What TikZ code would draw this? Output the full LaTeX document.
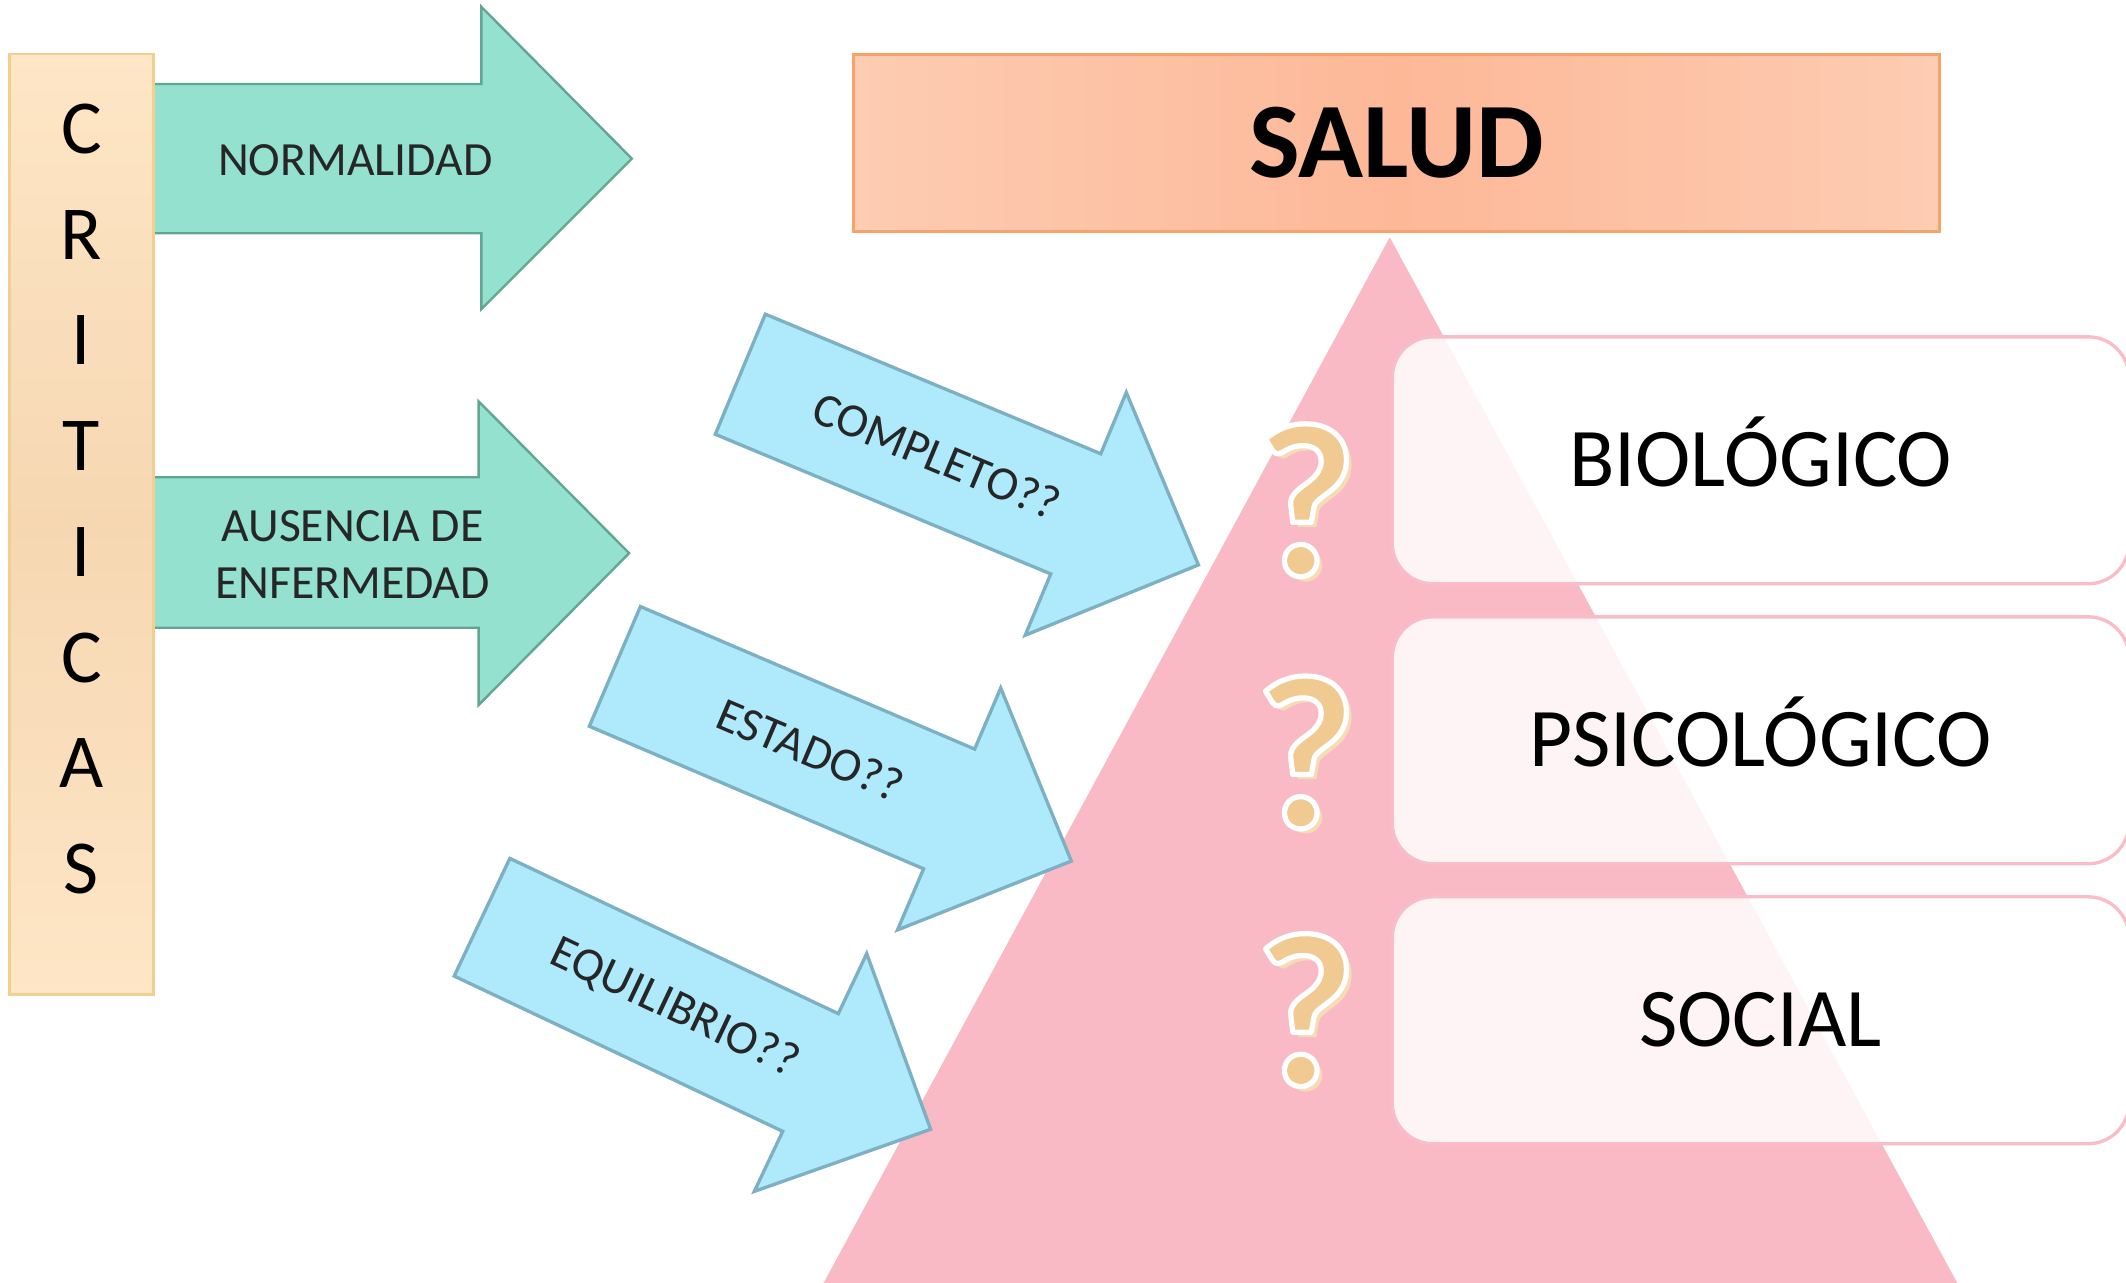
\documentclass[tikz,border=0pt]{standalone}
\usepackage{fontspec}
\setmainfont{Carlito}
\usepackage{tikz}
\usetikzlibrary{shapes,arrows}
\usetikzlibrary{positioning}
\usetikzlibrary{calc}
\definecolor{critlight}{HTML}{FEE6C6}
\definecolor{critmid}{HTML}{F6D7B2}
\definecolor{critline}{HTML}{F3CF8F}
\definecolor{greenfill}{HTML}{94E1D0}
\definecolor{greenline}{HTML}{62A592}
\definecolor{bluefill}{HTML}{AEE9FC}
\definecolor{blueline}{HTML}{7DB0C2}
\definecolor{saludedge}{HTML}{FDCCB2}
\definecolor{saludmid}{HTML}{FDB898}
\definecolor{saludline}{HTML}{F5A369}
\definecolor{pyramid}{HTML}{F9B9C5}
\definecolor{levelline}{HTML}{F8BDC9}
\definecolor{qmark}{HTML}{F0CA91}
\definecolor{qshadow}{HTML}{F5DCB5}
\definecolor{labeltext}{HTML}{262626}
\tikzstyle{critbox} = [draw=critline, line width=0.6pt,
top color=critlight, bottom color=critlight, middle color=critmid,
minimum width=1.06cm, minimum height=6.93cm]
\tikzstyle{greenarrow} = [draw=greenline, fill=greenfill, line width=0.5pt]
\tikzstyle{bluearrow} = [draw=blueline, fill=bluefill, line width=0.7pt]
\tikzstyle{arrowlabel} = [text=labeltext, inner sep=0pt,
font=\fontsize{10}{12}\selectfont]
% question mark filled and outlined in white
\newcommand{\outlineq}{\special{pdf:literal direct 1 1 1 RG 1.1 w 1 j 2 Tr}?\special{pdf:literal direct 0 Tr}}

\begin{document}
\begin{tikzpicture}[x=0.01cm, y=-0.01cm,
	saludbox/.style={draw=saludline, line width=0.6pt,
		left color=saludedge, right color=saludedge, middle color=saludmid,
		minimum width=8cm, minimum height=1.31cm,
		font=\fontsize{22.5}{24}\selectfont\bfseries},
	levelbox/.style={draw=levelline, line width=0.7pt, rounded corners=0.3cm,
		fill=white, fill opacity=0.85, text opacity=1,
		minimum width=5.43cm, minimum height=1.82cm,
		text height=11.1pt, text depth=0pt,
		font=\fontsize{17.5}{20}\selectfont},
	letter/.style={inner sep=0pt, font=\fontsize{16}{16}\selectfont},
	qbase/.style={inner sep=0pt, font=\fontsize{46}{46}\selectfont\bfseries}]
	\useasboundingbox (0,0) rectangle (1568,946);
	\clip (0,0) rectangle (1568,946);
	%% Pyramid
	\fill [pyramid] (1025,175) -- (600,960) -- (1451,960) -- cycle;
	%% Criticas
	\draw [greenarrow] (113,62) -- (355,62) -- (355,5) -- (466,117) -- (355,228) -- (355,172) -- (113,172) -- cycle;
	\draw [greenarrow] (113,352) -- (353,352) -- (353,296) -- (464,408) -- (353,520) -- (353,463) -- (113,463) -- cycle;
	\node [critbox] (crit) at (60,386.5) {};
	\foreach \ch [count=\i from 0] in {C,R,I,T,I,C,A,S}
		\node [letter] (crit\i) at (60,95+78*\i) {\ch};
	\node [arrowlabel] (normal) at (262,118) {NORMALIDAD};
	\node [arrowlabel, align=center] (ausencia) at (260,409) {AUSENCIA DE\\ENFERMEDAD};
	%% Salud
	\node [saludbox] (salud) at (1030,105.5) {SALUD};
	%% Blue arrows
	\foreach \tx/\ty/\ang/\name/\txt in {546/276/22.6/completo/COMPLETO??,
		453.5/491.5/23.1/estado/ESTADO??, 355.5/676.5/25.3/equilibrio/EQUILIBRIO??} {
		\begin{scope}[shift={(\tx,\ty)}, rotate=-\ang]
			\draw [bluearrow] (0,-48) -- (268,-48) -- (268,-97) -- (366,0) -- (268,97) -- (268,48) -- (0,48) -- cycle;
			\node [arrowlabel, transform shape] (\name) at (157,0) {\txt};
		\end{scope}
	}
	%% Levels
	\node [levelbox] (bio) at (1298.5,339.5) {BIOLÓGICO};
	\node [levelbox] (psi) at (1298.5,546) {PSICOLÓGICO};
	\node [levelbox] (soc) at (1298.5,752.5) {SOCIAL};
	%% Question marks
	\foreach \qy [count=\qi] in {369,555,745} {
		\node [qbase, text=qshadow] (qs\qi) at ($(963,\qy)+(1.1pt,-1.1pt)$) {?};
		\node [qbase, text=qmark] (q\qi) at (963,\qy) {\outlineq};
	}
\end{tikzpicture}
\end{document}
